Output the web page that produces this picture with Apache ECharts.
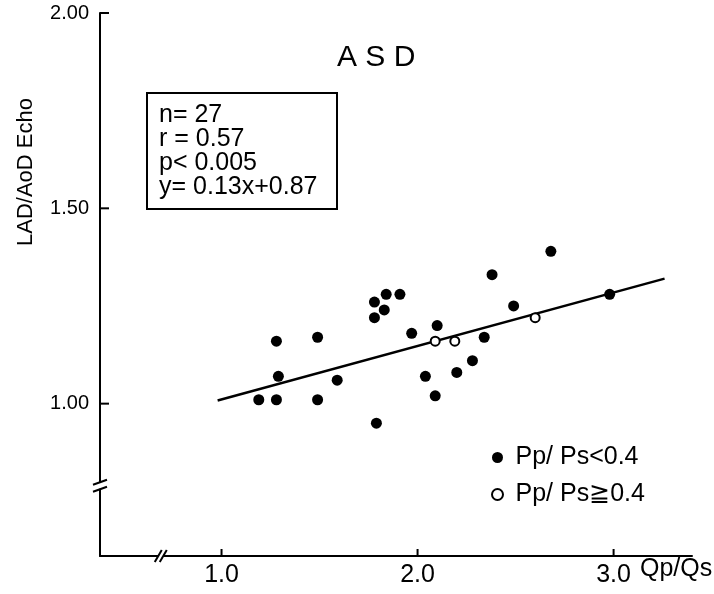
<!DOCTYPE html>
<html>
<head>
<meta charset="utf-8">
<title>ASD</title>
<script src="https://cdn.jsdelivr.net/npm/echarts@6/dist/echarts.min.js"></script>
<style>
	html, body { margin: 0; padding: 0; background: #fff; }
	#chart { width: 714px; height: 594px; }
</style>
</head>
<body>
<div id="chart"></div>
<script>
// Pp/Ps < 0.4 (filled dots)
var lowX = [1.19, 1.28, 1.28, 1.29, 1.49, 1.49, 1.59, 1.78, 1.84, 1.91, 1.78, 1.83,
	1.79, 1.97, 2.10, 2.04, 2.09, 2.20, 2.28, 2.34, 2.38, 2.49, 2.68, 2.98];
var lowY = [1.01, 1.01, 1.16, 1.07, 1.17, 1.01, 1.06, 1.26, 1.28, 1.28, 1.22, 1.24,
	0.95, 1.18, 1.20, 1.07, 1.02, 1.08, 1.11, 1.17, 1.33, 1.25, 1.39, 1.28];
// Pp/Ps >= 0.4 (open circles)
var highX = [2.09, 2.19, 2.60];
var highY = [1.16, 1.16, 1.22];
// regression line as drawn
var fitX = [0.98, 3.26];
var fitY = [1.008, 1.32];
var xTicks = [1.0, 2.0, 3.0];
var yTicks = [1.00, 1.50, 2.00];
var statLines = ["n= 27", "r = 0.57", "p< 0.005", "y= 0.13x+0.87"];
var seriesNames = ["Pp/ Ps<0.4", "Pp/ Ps≧0.4"];
var xBreak = 0.69;
var yBreak = 0.79;

var FONT = "'Liberation Sans', Arial, sans-serif";

var ChartPage = function () { }

ChartPage.prototype = {
	init: function () {
		this.chart = echarts.init(document.getElementById("chart"));
		this.chart.setOption(this.buildOption());
		this.drawExtras();
	},
	pairs: function (xs, ys) {
		return xs.map(function (x, i) { return [x, ys[i]]; });
	},
	buildOption: function () {
		return {
			animation: false,
			backgroundColor: "#fff",
			textStyle: { fontFamily: FONT, color: "#000" },
			title: [{
				text: "A S D",
				left: 337,
				top: 43,
				padding: 0,
				textStyle: { fontSize: 30, fontWeight: "normal", color: "#000", fontFamily: FONT }
			}, {
				text: statLines.join("\n"),
				left: 147,
				top: 93,
				padding: [10, 20, 10, 12],
				borderColor: "#000",
				borderWidth: 2,
				textStyle: { fontSize: 25, lineHeight: 24, fontWeight: "normal", color: "#000", fontFamily: FONT }
			}],
			legend: {
				data: seriesNames,
				orient: "vertical",
				left: 491,
				top: 445,
				padding: 0,
				itemWidth: 26,
				itemHeight: 11,
				itemGap: 12,
				textStyle: { fontSize: 25, color: "#000", fontFamily: FONT }
			},
			grid: {
				left: 100,
				right: 22,
				top: 13,
				bottom: 38,
				outerBoundsMode: "none"
			},
			xAxis: {
				type: "value",
				min: 0.38,
				max: 3.4,
				splitLine: { show: false },
				axisLine: { show: true, onZero: false, lineStyle: { color: "#000", width: 2 } },
				axisTick: { show: false },
				axisLabel: {
					customValues: xTicks,
					margin: 7,
					fontSize: 25,
					color: "#000",
					fontFamily: FONT,
					formatter: function (v) { return v.toFixed(1); }
				}
			},
			yAxis: {
				type: "value",
				min: 0.61,
				max: 2.0,
				splitLine: { show: false },
				axisLine: { show: true, onZero: false, lineStyle: { color: "#000", width: 2 } },
				axisTick: { show: false },
				axisLabel: {
					customValues: yTicks,
					margin: 11,
					fontSize: 20,
					color: "#000",
					fontFamily: FONT,
					formatter: function (v) { return v.toFixed(2); }
				}
			},
			graphic: [{
				type: "text",
				x: 26,
				y: 172,
				rotation: Math.PI / 2,
				style: {
					text: "LAD/AoD Echo",
					fontSize: 22,
					fontFamily: FONT,
					fill: "#000",
					align: "center",
					verticalAlign: "middle"
				}
			}, {
				type: "text",
				x: 640,
				y: 569,
				style: {
					text: "Qp/Qs",
					fontSize: 25,
					fontFamily: FONT,
					fill: "#000",
					align: "left",
					verticalAlign: "middle"
				}
			}],
			series: [{
				type: "line",
				data: this.pairs(fitX, fitY),
				showSymbol: false,
				silent: true,
				z: 1,
				lineStyle: { color: "#000", width: 2.5 }
			}, {
				name: seriesNames[0],
				type: "scatter",
				data: this.pairs(lowX, lowY),
				symbol: "circle",
				symbolSize: 11,
				z: 3,
				itemStyle: { color: "#000", opacity: 1 }
			}, {
				name: seriesNames[1],
				type: "scatter",
				data: this.pairs(highX, highY),
				symbol: "circle",
				symbolSize: 9,
				z: 3,
				itemStyle: { color: "#fff", borderColor: "#000", borderWidth: 2, opacity: 1 }
			}]
		};
	},
	// inward ticks and "//" break marks on both axes
	drawExtras: function () {
		var chart = this.chart;
		var ax = chart.convertToPixel({ xAxisIndex: 0 }, 0.38);
		var ay = chart.convertToPixel({ yAxisIndex: 0 }, 0.61);
		var bx = chart.convertToPixel({ xAxisIndex: 0 }, xBreak);
		var by = chart.convertToPixel({ yAxisIndex: 0 }, yBreak);
		var line = function (x1, y1, x2, y2) {
			return { type: "line", z: 100, shape: { x1: x1, y1: y1, x2: x2, y2: y2 }, style: { stroke: "#000", lineWidth: 2 } };
		};
		var gap = function (x, y, w, h) {
			return { type: "rect", z: 99, shape: { x: x, y: y, width: w, height: h }, style: { fill: "#fff" } };
		};
		var marks = [
			gap(ax - 3, by - 3, 6, 6),
			line(ax - 7, by - 1, ax + 7, by - 6),
			line(ax - 7, by + 6, ax + 7, by + 1),
			gap(bx - 2.5, ay - 3, 5, 6),
			line(bx - 6, ay + 6, bx + 1, ay - 6),
			line(bx - 1, ay + 6, bx + 6, ay - 6)
		];
		xTicks.forEach(function (v) {
			var px = chart.convertToPixel({ xAxisIndex: 0 }, v);
			marks.push(line(px, ay, px, ay - 7));
		});
		yTicks.forEach(function (v) {
			var py = chart.convertToPixel({ yAxisIndex: 0 }, v);
			marks.push(line(ax, py, ax + 9, py));
		});
		var option = chart.getOption();
		chart.setOption({ graphic: option.graphic[0].elements.concat(marks) });
	}
}

window.onload = function () {
	var chartPage = new ChartPage();
	chartPage.init();
}
</script>
</body>
</html>
